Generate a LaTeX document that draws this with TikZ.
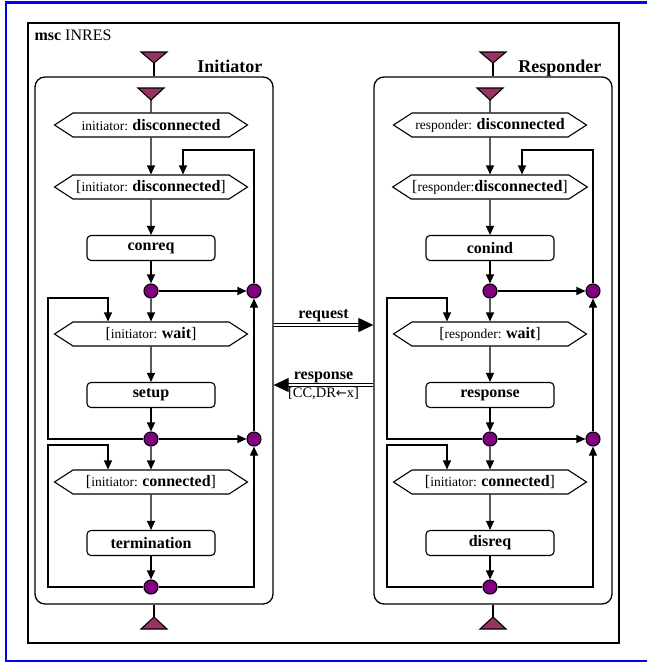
\documentclass[tikz,border=0pt]{standalone}
\usepackage{fontspec}
\setmainfont{Liberation Serif}
\newfontfamily\arrowfont{DejaVu Sans}
\usetikzlibrary{arrows.meta,shapes.symbols,positioning}

\definecolor{dot}{HTML}{800080}
\definecolor{gate}{HTML}{993366}
\newcommand\stl[2]{{\fontsize{13.5}{15}\selectfont #1}\textbf{#2}}

\tikzset{
  flow/.style={-{Triangle[length=9pt,width=8pt]}},
  state/.style={draw, signal, signal to=west and east, signal pointer angle=66,
    minimum width=193, minimum height=24, inner sep=1pt},
  task/.style={draw, rounded corners=4pt, minimum width=128, minimum height=25,
    font=\fontsize{16}{18}\selectfont\bfseries},
  junct/.style={draw, circle, fill=dot, minimum size=14, inner sep=0pt},
  gatetri/.style={draw, fill=gate, line join=miter},
  msg/.style={double, double distance=2pt, line width=1.2pt, -{Triangle[length=15pt,width=14pt]}},
  msglbl/.style={inner sep=2pt, font=\fontsize{16}{18}\selectfont\bfseries},
}

\begin{document}
\begin{tikzpicture}[x=1pt, y=-1pt, line width=1.1pt, font=\fontsize{16}{18}\selectfont]
    \useasboundingbox (0,0) rectangle (646,662);
    % frames
    \draw[blue, line width=2.5pt] (6,2.5) rectangle (658,661);
    \draw[line width=1.5pt] (28,23) rectangle (619,643);
    \node[anchor=base west, inner sep=0pt] (title) at (34,40) {\textbf{msc} INRES};

    % one lane per instance
    \foreach \dx/\p/\name/\ta/\tb/\tc/\td/\te/\tf/\tg in {
        0/i/Initiator/{\stl{initiator: }{disconnected}}/{[\stl{initiator: }{disconnected}]}/conreq/{[\stl{initiator: }{wait}]}/setup/{[\stl{initiator: }{connected}]}/termination,
        339/r/Responder/{\stl{responder: }{disconnected}}/{[\stl{responder:}{disconnected}]}/conind/{[\stl{responder: }{wait}]}/response/{[\stl{initiator: }{connected}]}/disreq}
    {
    \begin{scope}[shift={(\dx,0)}]
        \node[draw, rounded corners=10pt, minimum width=238, minimum height=527, line width=1.3pt] (\p-lane) at (154,340.5) {};
        \node[anchor=base east, inner sep=0pt, font=\fontsize{18}{20}\selectfont\bfseries] (\p-name) at (263,72) {\name};

        % entry and exit
        \filldraw[gatetri] (141,52) -- (167,52) -- (154,63) -- cycle;
        \coordinate (\p-gin) at (154,63);
        \filldraw[gatetri] (138,88) -- (164,88) -- (151,100) -- cycle;
        \coordinate (\p-start) at (151,100);
        \filldraw[gatetri] (141,629) -- (167,629) -- (154,617) -- cycle;
        \coordinate (\p-gout) at (154,617);
        \draw (\p-gin) -- (\p-gin |- \p-lane.north);
        \draw (\p-lane.south -| \p-gout) -- (\p-gout);

        % states, tasks and junctions
        \node[state] (\p-s1) at (151,125) {\ta};
        \node[state] (\p-s2) at (151,187) {\tb};
        \node[task] (\p-t1) at (151,248) {\tc};
        \node[junct] (\p-j1) at (151,291) {};
        \node[junct] (\p-k1) at (254,291) {};
        \node[state] (\p-s3) at (151,334) {\td};
        \node[task] (\p-t2) at (151,395) {\te};
        \node[junct] (\p-j2) at (151,439) {};
        \node[junct] (\p-k2) at (254,439) {};
        \node[state] (\p-s4) at (151,482) {\tf};
        \node[task] (\p-t3) at (151,543) {\tg};
        \node[junct] (\p-j3) at (151,587) {};

        % loop corners
        \coordinate (\p-back) at (183,150);
        \coordinate (\p-wl) at (48,298);
        \coordinate (\p-wa) at (108,298);
        \coordinate (\p-cl) at (48,445);
        \coordinate (\p-ca) at (108,445);

        \draw (\p-start) -- (\p-s1);
        \draw[flow] (\p-s1) -- (\p-s2);
        \draw[flow] (\p-s2) -- (\p-t1);
        \draw[flow] (\p-t1) -- (\p-j1);
        \draw[flow] (\p-j1) -- (\p-s3);
        \draw[flow] (\p-j1) -- (\p-k1);
        \draw[flow] (\p-s3) -- (\p-t2);
        \draw[flow] (\p-t2) -- (\p-j2);
        \draw[flow] (\p-j2) -- (\p-s4);
        \draw[flow] (\p-j2) -- (\p-k2);
        \draw[flow] (\p-s4) -- (\p-t3);
        \draw[flow] (\p-t3) -- (\p-j3);
        \draw[flow] (\p-j3) -| (\p-k2);
        \draw[flow] (\p-k2) -- (\p-k1);
        \draw[flow] (\p-k1) |- (\p-back) -- (\p-back |- \p-s2.north);
        \draw[flow] (\p-j2) -| (\p-wl) -- (\p-wa) -- (\p-wa |- \p-s3.north);
        \draw[flow] (\p-j3) -| (\p-cl) -- (\p-ca) -- (\p-ca |- \p-s4.north);
    \end{scope}
    }

    % messages
    \coordinate (req) at (0,325);
    \coordinate (rsp) at (0,385);
    \draw[msg] (i-lane.east |- req) -- node[above, msglbl] (reqlbl) {request} (r-lane.west |- req);
    \draw[msg] (r-lane.west |- rsp) -- node[above, msglbl] (rsplbl) {response}
        node[below, inner sep=2pt, font=\fontsize{14.5}{16}\selectfont] (rspcond) {[CC,DR{\arrowfont\fontsize{13}{15}\selectfont ←}x]} (i-lane.east |- rsp);
\end{tikzpicture}
\end{document}
